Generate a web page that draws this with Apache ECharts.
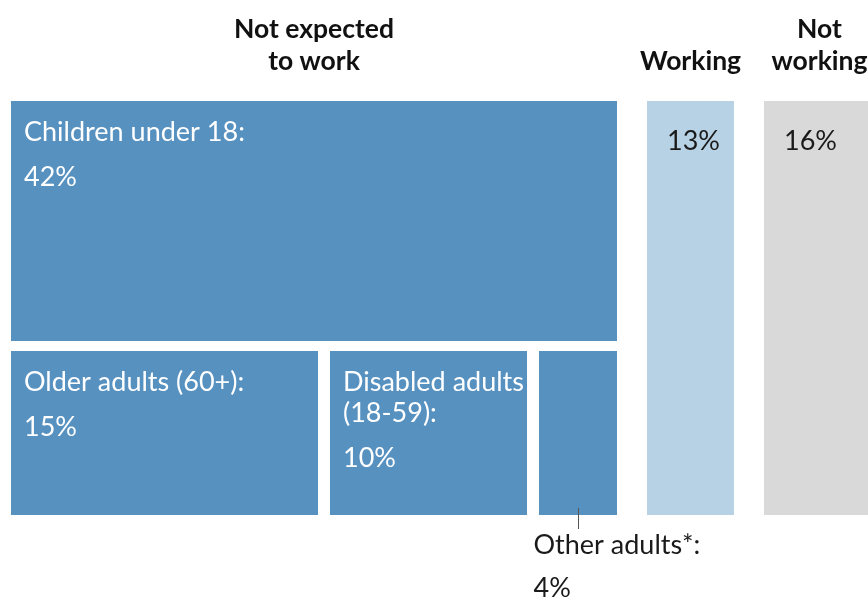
<!DOCTYPE html>
<html>
<head>
<meta charset="utf-8">
<script src="https://cdn.jsdelivr.net/npm/echarts@6/dist/echarts.min.js"></script>
<style>
  html, body { margin: 0; padding: 0; background: #ffffff; overflow: hidden; }
  #chart { width: 868px; height: 601px; overflow: hidden; }
</style>
</head>
<body>
<div id="chart"></div>
<script>
// Share of people, by group (percent)
const groupTitles = ['Not expected\nto work', 'Working', 'Not\nworking'];
const notExpectedNames = ['Children under 18:', 'Older adults (60+):', 'Disabled adults\n(18-59):', 'Other adults*:'];
const notExpectedShares = [42, 15, 10, 4];
const workforceNames = ['Working', 'Not working'];
const workforceShares = [13, 16];

const DARK_BLUE = '#5791c0';
const LIGHT_BLUE = '#b7d2e5';
const GREY = '#d9d9d9';
const FONT = 'Lato, "Open Sans", sans-serif';
const BODY_SIZE = 27;
const sum = a => a.reduce((s, v) => s + v, 0);

// Block 1: first category fills a full-width top band, the rest share a bottom row
const neTotal = sum(notExpectedShares);
const neRowTotal = sum(notExpectedShares.slice(1));
const neCells = [];
neCells.push([0, neRowTotal, 0, notExpectedShares[0]]);
let acc = 0;
for (let i = 1; i < notExpectedShares.length; i++) {
  neCells.push([acc, acc + notExpectedShares[i], notExpectedShares[0], neTotal]);
  acc += notExpectedShares[i];
}
const neMeta = notExpectedNames.map((name, i) => ({
  name: name,
  pct: notExpectedShares[i] + '%',
  outside: i === notExpectedNames.length - 1,
  header: i === 0 ? groupTitles[0] : null
}));

// Block 2: working / not working, side by side (runs off the right edge)
const wfTotal = sum(workforceShares);
const wfCells = [];
acc = 0;
workforceShares.forEach(v => { wfCells.push([acc, acc + v, 0, 1]); acc += v; });
const wfMeta = workforceNames.map((name, i) => ({
  name: null,
  pct: workforceShares[i] + '%',
  fill: i === 0 ? LIGHT_BLUE : GREY,
  header: groupTitles[i + 1]
}));

function headerText(cx, top, text) {
  return {
    type: 'text',
    style: {
      text: text, x: cx, y: top - 24,
      align: 'center', verticalAlign: 'bottom',
      fontFamily: FONT, fontSize: 26.5, fontWeight: 'bold',
      lineHeight: 32, fill: '#111111'
    }
  };
}

function bodyText(text, x, y, fill, extra) {
  return {
    type: 'text',
    style: Object.assign({
      text: text, x: x, y: y,
      verticalAlign: 'middle',
      fontFamily: FONT, fontSize: BODY_SIZE, fill: fill
    }, extra || {})
  };
}

function makeRenderer(xMax, yMax, gapX, gapY, meta, kind) {
  return function (params, api) {
    const x0 = api.value(0), x1 = api.value(1), y0 = api.value(2), y1 = api.value(3);
    const a = api.coord([x0, y0]);
    const b = api.coord([x1, y1]);
    let left = Math.min(a[0], b[0]), right = Math.max(a[0], b[0]);
    let top = Math.min(a[1], b[1]), bottom = Math.max(a[1], b[1]);
    if (x0 > 0) left += gapX / 2;
    if (x1 < xMax) right -= gapX / 2;
    if (y0 > 0) top += gapY / 2;
    if (y1 < yMax) bottom -= gapY / 2;
    left = Math.round(left); right = Math.round(right);
    top = Math.round(top); bottom = Math.round(bottom);
    const m = meta[params.dataIndex];
    const children = [];
    children.push({
      type: 'rect',
      shape: { x: left, y: top, width: right - left, height: bottom - top },
      style: { fill: kind === 'ne' ? DARK_BLUE : m.fill }
    });
    if (m.header) {
      children.push(headerText((left + right) / 2, top, m.header));
    }
    if (kind === 'ne' && !m.outside) {
      const lines = m.name.split('\n').length;
      children.push(bodyText(m.name, left + 13, top + 15.5, '#ffffff',
        { verticalAlign: 'top', lineHeight: 31 }));
      children.push(bodyText(m.pct, left + 13, top + 31 + (lines - 1) * 31 + 45, '#ffffff'));
    } else if (kind === 'ne') {
      const cx = Math.round((left + right) / 2) + 0.5;
      children.push({
        type: 'line',
        shape: { x1: cx, y1: bottom - 7, x2: cx, y2: bottom + 14 },
        style: { stroke: '#555555', lineWidth: 1 }
      });
      children.push(bodyText(m.name, cx - 45, bottom + 30, '#1a1a1a'));
      children.push(bodyText(m.pct, cx - 45, bottom + 73, '#1a1a1a'));
    } else {
      children.push(bodyText(m.pct, left + 20, top + 40, '#1a1a1a'));
    }
    return { type: 'group', children: children };
  };
}

const hiddenAxis = { show: false, axisLine: { show: false }, splitLine: { show: false } };

// The drawing surface is a little wider than the visible page so the last column is cut off
const chart = echarts.init(document.getElementById('chart'), null, {
  renderer: 'canvas', width: 884, height: 601
});
chart.setOption({
  animation: false,
  backgroundColor: '#ffffff',
  grid: [
    { left: 11, top: 101, width: 606, height: 414 },
    { left: 647, top: 101, width: 228, height: 414 }
  ],
  xAxis: [
    Object.assign({ type: 'value', gridIndex: 0, min: 0, max: neRowTotal }, hiddenAxis),
    Object.assign({ type: 'value', gridIndex: 1, min: 0, max: wfTotal }, hiddenAxis)
  ],
  yAxis: [
    Object.assign({ type: 'value', gridIndex: 0, min: 0, max: neTotal, inverse: true }, hiddenAxis),
    Object.assign({ type: 'value', gridIndex: 1, min: 0, max: 1, inverse: true }, hiddenAxis)
  ],
  series: [
    {
      type: 'custom', xAxisIndex: 0, yAxisIndex: 0,
      renderItem: makeRenderer(neRowTotal, neTotal, 12, 10, neMeta, 'ne'),
      data: neCells, clip: false, silent: true
    },
    {
      type: 'custom', xAxisIndex: 1, yAxisIndex: 1,
      renderItem: makeRenderer(wfTotal, 1, 30, 0, wfMeta, 'wf'),
      data: wfCells, clip: false, silent: true
    }
  ]
});
</script>
</body>
</html>
